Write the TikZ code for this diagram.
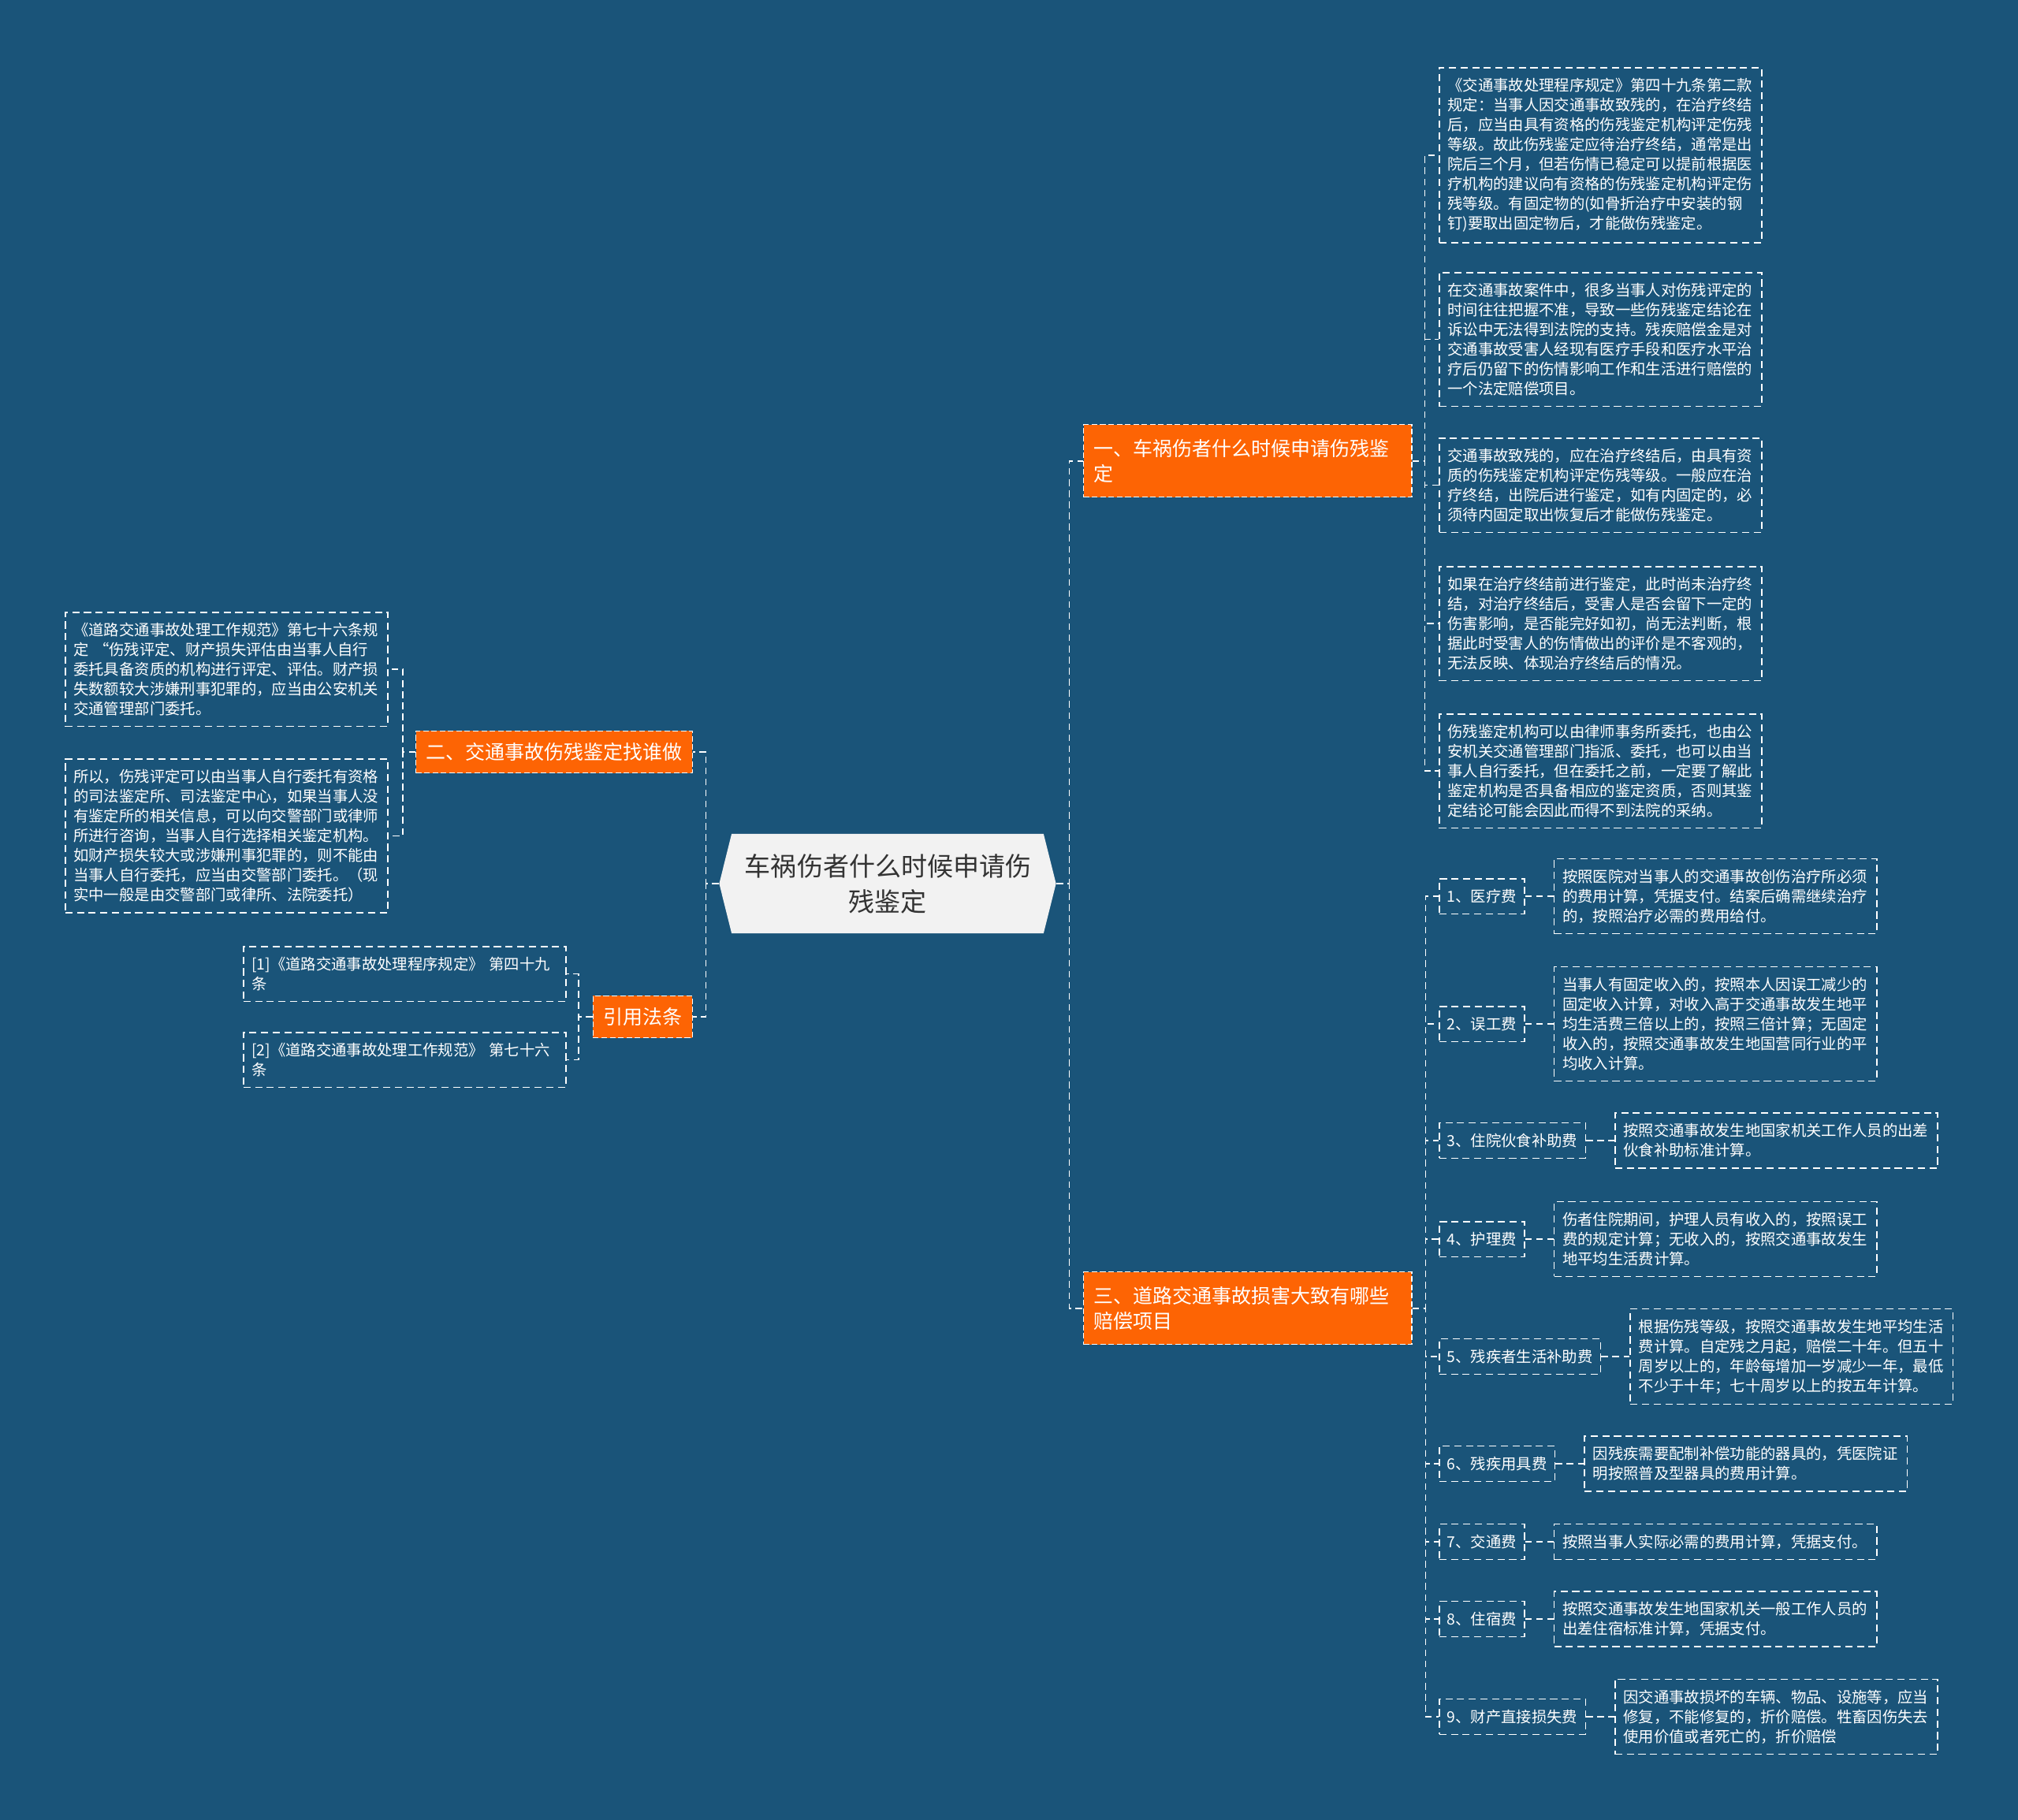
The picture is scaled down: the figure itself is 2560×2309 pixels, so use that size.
\documentclass[tikz,border=0pt]{standalone}
\usepackage{fontspec}
\setmainfont{Noto Sans CJK SC}
\usepackage{xcolor}
\usepackage{tikz}
\usetikzlibrary{shapes,shapes.symbols,positioning,calc}

\definecolor{bgblue}{RGB}{26,84,121}
\definecolor{branchorange}{RGB}{253,100,4}
\definecolor{rootgray}{RGB}{242,242,242}
\definecolor{roottext}{RGB}{51,51,51}

\begin{document}
\begin{tikzpicture}[x=0.01cm, y=-0.01cm,
    link/.style={draw=white, line width=0.45pt, dash pattern=on 2.4pt off 1.6pt},
    leaf/.style={rectangle, draw=white, line width=0.45pt, dash pattern=on 2.6pt off 1.6pt, text=white, font=\fontsize{5.5}{7.11}\selectfont, text width=3.88cm, align=left, inner xsep=0.105cm, inner ysep=3.8pt},
    item/.style={rectangle, draw=white, line width=0.45pt, dash pattern=on 2.6pt off 1.6pt, text=white, font=\fontsize{5.5}{7.11}\selectfont, inner xsep=0.1cm, inner ysep=3.8pt, anchor=west},
    branch/.style={rectangle, draw=white, line width=0.4pt, dash pattern=on 2pt off 1pt, fill=branchorange, text=white, font=\fontsize{7.1}{9.1}\selectfont, align=left, inner xsep=0.13cm, inner ysep=0.15cm}]

    \fill[bgblue] (0,0) rectangle (2560,2309);
    \useasboundingbox (0,0) rectangle (2560,2309);

    % root
    \node[signal, signal to=east and west, signal pointer angle=152, fill=rootgray, text=roottext, font=\fontsize{9.4}{12.8}\selectfont, text width=3.62cm, align=center, inner xsep=0.05cm, minimum width=4.27cm, minimum height=1.26cm] (root) at (1126,1121) {车祸伤者什么时候申请伤\\残鉴定};

    % branches
    \node[branch, text width=3.9cm, minimum height=0.92cm, anchor=north west] (b1) at (1374,538) {一、车祸伤者什么时候申请伤残鉴\\定};
    \node[branch, text width=3.9cm, minimum height=0.92cm, anchor=north west] (b3) at (1374,1613) {三、道路交通事故损害大致有哪些\\赔偿项目};
    \node[branch, anchor=east] (b2) at (879,954) {二、交通事故伤残鉴定找谁做};
    \node[branch, anchor=east] (refs) at (879,1290) {引用法条};

    % branch 1 leaves
    \node[leaf, anchor=north west] (a1) at (1825,85) {《交通事故处理程序规定》第四十九条第二款\\规定：当事人因交通事故致残的，在治疗终结\\后，应当由具有资格的伤残鉴定机构评定伤残\\等级。故此伤残鉴定应待治疗终结，通常是出\\院后三个月，但若伤情已稳定可以提前根据医\\疗机构的建议向有资格的伤残鉴定机构评定伤\\残等级。有固定物的(如骨折治疗中安装的钢\\钉)要取出固定物后，才能做伤残鉴定。};
    \node[leaf, anchor=north west] (a2) at (1825,345) {在交通事故案件中，很多当事人对伤残评定的\\时间往往把握不准，导致一些伤残鉴定结论在\\诉讼中无法得到法院的支持。残疾赔偿金是对\\交通事故受害人经现有医疗手段和医疗水平治\\疗后仍留下的伤情影响工作和生活进行赔偿的\\一个法定赔偿项目。};
    \node[leaf, anchor=north west] (a3) at (1825,555) {交通事故致残的，应在治疗终结后，由具有资\\质的伤残鉴定机构评定伤残等级。一般应在治\\疗终结，出院后进行鉴定，如有内固定的，必\\须待内固定取出恢复后才能做伤残鉴定。};
    \node[leaf, anchor=north west] (a4) at (1825,718) {如果在治疗终结前进行鉴定，此时尚未治疗终\\结，对治疗终结后，受害人是否会留下一定的\\伤害影响，是否能完好如初，尚无法判断，根\\据此时受害人的伤情做出的评价是不客观的，\\无法反映、体现治疗终结后的情况。};
    \node[leaf, anchor=north west] (a5) at (1825,905) {伤残鉴定机构可以由律师事务所委托，也由公\\安机关交通管理部门指派、委托，也可以由当\\事人自行委托，但在委托之前，一定要了解此\\鉴定机构是否具备相应的鉴定资质，否则其鉴\\定结论可能会因此而得不到法院的采纳。};

    % branch 2 leaves
    \node[leaf, anchor=north west] (c1) at (82,776) {《道路交通事故处理工作规范》第七十六条规\\定 “伤残评定、财产损失评估由当事人自行\\委托具备资质的机构进行评定、评估。财产损\\失数额较大涉嫌刑事犯罪的，应当由公安机关\\交通管理部门委托。};
    \node[leaf, anchor=north west] (c2) at (82,962) {所以，伤残评定可以由当事人自行委托有资格\\的司法鉴定所、司法鉴定中心，如果当事人没\\有鉴定所的相关信息，可以向交警部门或律师\\所进行咨询，当事人自行选择相关鉴定机构。\\如财产损失较大或涉嫌刑事犯罪的，则不能由\\当事人自行委托，应当由交警部门委托。（现\\实中一般是由交警部门或律所、法院委托）};

    % references
    \node[leaf, anchor=north west] (r1) at (308,1200) {[1]《道路交通事故处理程序规定》 第四十九\\条};
    \node[leaf, anchor=north west] (r2) at (308,1309) {[2]《道路交通事故处理工作规范》 第七十六\\条};

    % branch 3 items
    \node[item] (i1) at (1825,1137) {1、医疗费};
    \node[item] (i2) at (1825,1299) {2、误工费};
    \node[item] (i3) at (1825,1447) {3、住院伙食补助费};
    \node[item] (i4) at (1825,1572) {4、护理费};
    \node[item] (i5) at (1825,1721) {5、残疾者生活补助费};
    \node[item] (i6) at (1825,1857) {6、残疾用具费};
    \node[item] (i7) at (1825,1956) {7、交通费};
    \node[item] (i8) at (1825,2054) {8、住宿费};
    \node[item] (i9) at (1825,2178) {9、财产直接损失费};

    \node[leaf, right=0.36cm of i1] (d1) {按照医院对当事人的交通事故创伤治疗所必须\\的费用计算，凭据支付。结案后确需继续治疗\\的，按照治疗必需的费用给付。};
    \node[leaf, right=0.36cm of i2] (d2) {当事人有固定收入的，按照本人因误工减少的\\固定收入计算，对收入高于交通事故发生地平\\均生活费三倍以上的，按照三倍计算；无固定\\收入的，按照交通事故发生地国营同行业的平\\均收入计算。};
    \node[leaf, right=0.36cm of i3] (d3) {按照交通事故发生地国家机关工作人员的出差\\伙食补助标准计算。};
    \node[leaf, right=0.36cm of i4] (d4) {伤者住院期间，护理人员有收入的，按照误工\\费的规定计算；无收入的，按照交通事故发生\\地平均生活费计算。};
    \node[leaf, right=0.36cm of i5] (d5) {根据伤残等级，按照交通事故发生地平均生活\\费计算。自定残之月起，赔偿二十年。但五十\\周岁以上的，年龄每增加一岁减少一年，最低\\不少于十年；七十周岁以上的按五年计算。};
    \node[leaf, right=0.36cm of i6] (d6) {因残疾需要配制补偿功能的器具的，凭医院证\\明按照普及型器具的费用计算。};
    \node[leaf, right=0.36cm of i7] (d7) {按照当事人实际必需的费用计算，凭据支付。};
    \node[leaf, right=0.36cm of i8] (d8) {按照交通事故发生地国家机关一般工作人员的\\出差住宿标准计算，凭据支付。};
    \node[leaf, right=0.36cm of i9] (d9) {因交通事故损坏的车辆、物品、设施等，应当\\修复，不能修复的，折价赔偿。牲畜因伤失去\\使用价值或者死亡的，折价赔偿};

    % connectors
    \draw[link] (root.east) -- ++(16,0) |- (b1.west);
    \draw[link] (root.east) -- ++(16,0) |- (b3.west);
    \draw[link] (root.west) -- ++(-16,0) |- (b2.east);
    \draw[link] (root.west) -- ++(-16,0) |- (refs.east);
    \foreach \n in {a1,a2,a3,a4,a5}
        \draw[link] (b1.east) -- ++(16,0) |- (\n.west);
    \foreach \n in {c1,c2}
        \draw[link] (b2.west) -- ++(-16,0) |- (\n.east);
    \foreach \n in {r1,r2}
        \draw[link] (refs.west) -- ++(-18,0) |- (\n.east);
    \foreach \n in {1,...,9} {
        \draw[link] (b3.east) -- ++(17,0) |- (i\n.west);
        \draw[link] (i\n.east) -- (d\n.west);
    }
\end{tikzpicture}
\end{document}
